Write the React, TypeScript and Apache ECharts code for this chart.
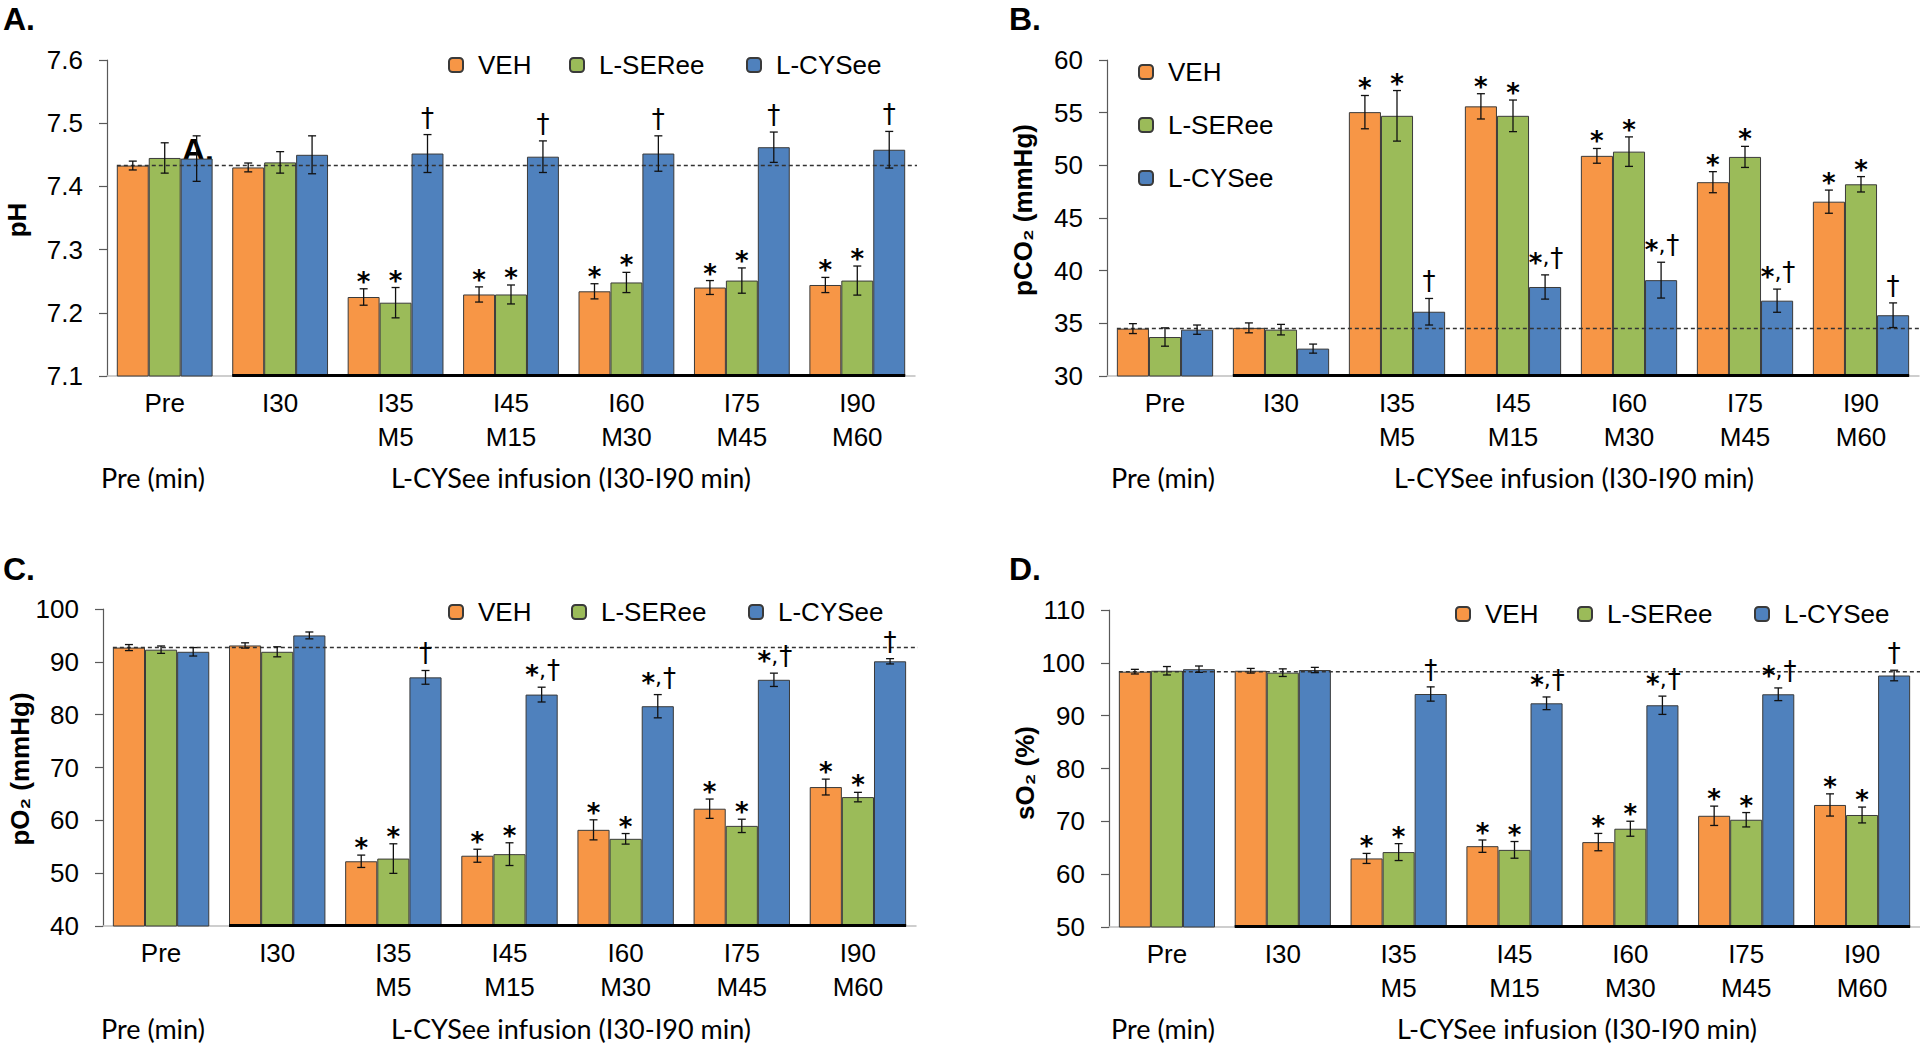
import React, { useEffect, useRef } from "react";
import * as echarts from "echarts";

// ---------- data ----------
const categories = ["Pre", "I30", "I35\nM5", "I45\nM15", "I60\nM30", "I75\nM45", "I90\nM60"];
const seriesNames = ["VEH", "L-SERee", "L-CYSee"];
const colors = ["#F79646", "#9BBB59", "#4F81BD"];

// A. pH
const phVeh = [7.433, 7.430, 7.225, 7.229, 7.234, 7.240, 7.244];
const phVehErr = [0.007, 0.007, 0.013, 0.012, 0.012, 0.011, 0.012];
const phSer = [7.445, 7.438, 7.216, 7.229, 7.248, 7.251, 7.251];
const phSerErr = [0.024, 0.017, 0.024, 0.015, 0.016, 0.020, 0.023];
const phCys = [7.444, 7.450, 7.452, 7.447, 7.452, 7.462, 7.458];
const phCysErr = [0.036, 0.030, 0.030, 0.025, 0.028, 0.024, 0.029];
const phVehMark = ["", "", "*", "*", "*", "*", "*"];
const phSerMark = ["", "", "*", "*", "*", "*", "*"];
const phCysMark = ["", "", "†", "†", "†", "†", "†"];
const phRef = 7.433;

// B. pCO2
const co2Veh = [34.5, 34.57, 55.05, 55.6, 50.9, 48.4, 46.55];
const co2VehErr = [0.47, 0.47, 1.58, 1.2, 0.7, 1.0, 1.1];
const co2Ser = [33.7, 34.4, 54.7, 54.7, 51.3, 50.8, 48.2];
const co2SerErr = [0.87, 0.5, 2.4, 1.5, 1.4, 1.0, 0.73];
const co2Cys = [34.4, 32.6, 36.1, 38.45, 39.1, 37.15, 35.77];
const co2CysErr = [0.44, 0.43, 1.26, 1.15, 1.7, 1.1, 1.17];
const co2VehMark = ["", "", "*", "*", "*", "*", "*"];
const co2SerMark = ["", "", "*", "*", "*", "*", "*"];
const co2CysMark = ["", "", "†", "*,†", "*,†", "*,†", "†"];
const co2Ref = 34.5;

// C. pO2
const o2Veh = [92.7, 93.1, 52.25, 53.3, 58.2, 62.2, 66.3];
const o2VehErr = [0.57, 0.5, 1.17, 1.23, 1.9, 1.83, 1.5];
const o2Ser = [92.3, 91.9, 52.76, 53.6, 56.5, 58.95, 64.4];
const o2SerErr = [0.7, 0.95, 2.8, 2.15, 1.0, 1.26, 0.9];
const o2Cys = [91.9, 95.0, 87.06, 83.8, 81.6, 86.6, 90.1];
const o2CysErr = [0.8, 0.65, 1.3, 1.4, 2.2, 1.26, 0.5];
const o2VehMark = ["", "", "*", "*", "*", "*", "*"];
const o2SerMark = ["", "", "*", "*", "*", "*", "*"];
const o2CysMark = ["", "", "†", "*,†", "*,†", "*,†", "†"];
const o2Ref = 92.7;

// D. sO2
const sVeh = [98.33, 98.5, 62.98, 65.3, 66.07, 71.05, 73.1];
const sVehErr = [0.44, 0.44, 0.95, 1.17, 1.64, 1.83, 2.1];
const sSer = [98.5, 98.14, 64.18, 64.6, 68.6, 70.3, 71.2];
const sSerErr = [0.8, 0.72, 1.6, 1.58, 1.42, 1.36, 1.5];
const sCys = [98.8, 98.64, 94.1, 92.34, 91.97, 94.05, 97.6];
const sCysErr = [0.6, 0.5, 1.35, 1.2, 1.73, 1.2, 1.0];
const sVehMark = ["", "", "*", "*", "*", "*", "*"];
const sSerMark = ["", "", "*", "*", "*", "*", "*"];
const sCysMark = ["", "", "†", "*,†", "*,†", "*,†", "†"];
const sRef = 98.33;

const yTicksA = { min: 7.1, max: 7.6, interval: 0.1, decimals: 1 };
const yTicksB = { min: 30, max: 60, interval: 5, decimals: 0 };
const yTicksC = { min: 40, max: 100, interval: 10, decimals: 0 };
const yTicksD = { min: 50, max: 110, interval: 10, decimals: 0 };

// ---------- layout ----------
const GAP = 0.17;
const ARIAL = '"Liberation Sans", Arial, sans-serif';
const MARKFONT = '"DejaVu Sans", sans-serif';

const panels = [
  {
    grid: { left: 107, top: 60, width: 808, height: 316 },
    ticks: yTicksA,
    values: [phVeh, phSer, phCys],
    errs: [phVehErr, phSerErr, phCysErr],
    marks: [phVehMark, phSerMark, phCysMark],
    ref: phRef,
    legend: { lefts: [448, 569, 746], cys: [65, 65, 65] },
  },
  {
    grid: { left: 1107, top: 60, width: 812, height: 316 },
    ticks: yTicksB,
    values: [co2Veh, co2Ser, co2Cys],
    errs: [co2VehErr, co2SerErr, co2CysErr],
    marks: [co2VehMark, co2SerMark, co2CysMark],
    ref: co2Ref,
    legend: { lefts: [1138, 1138, 1138], cys: [72, 125, 178] },
  },
  {
    grid: { left: 103, top: 609, width: 813, height: 317 },
    ticks: yTicksC,
    values: [o2Veh, o2Ser, o2Cys],
    errs: [o2VehErr, o2SerErr, o2CysErr],
    marks: [o2VehMark, o2SerMark, o2CysMark],
    ref: o2Ref,
    legend: { lefts: [448, 571, 748], cys: [612, 612, 612] },
  },
  {
    grid: { left: 1109, top: 610, width: 811, height: 317 },
    ticks: yTicksD,
    values: [sVeh, sSer, sCys],
    errs: [sVehErr, sSerErr, sCysErr],
    marks: [sVehMark, sSerMark, sCysMark],
    ref: sRef,
    legend: { lefts: [1455, 1577, 1754], cys: [614, 614, 614] },
  },
];

function markElement(m: string, cx: number, yTop: number) {
  if (m === "*") {
    return {
      type: "text",
      x: cx,
      y: yTop - 7,
      style: {
        text: "*",
        fill: "#000",
        fontSize: 26,
        fontWeight: "bold",
        fontFamily: MARKFONT,
        align: "center",
        verticalAlign: "middle",
        textAlign: "center",
        textVerticalAlign: "middle",
      },
    };
  }
  const rich = m
    .split("")
    .map((ch) => (ch === "*" ? "{a|*}" : ch === "," ? "{c|,}" : "{d|†}"))
    .join("");
  return {
    type: "text",
    x: cx + (m.length > 1 ? 1 : 0),
    y: yTop - 17,
    style: {
      text: rich,
      fill: "#000",
      align: "center",
      verticalAlign: "middle",
      textAlign: "center",
      textVerticalAlign: "middle",
      rich: {
        a: { fontSize: 26, fontWeight: "bold", fontFamily: MARKFONT, fill: "#000", padding: [10, 0, 0, 0] },
        c: { fontSize: 22, fontFamily: MARKFONT, fill: "#000", padding: [0, 1, 0, 0] },
        d: { fontSize: 26, fontFamily: MARKFONT, fill: "#000" },
      },
    },
  };
}

function buildOption() {
  const grid = panels.map((p) => ({ ...p.grid }));
  const xAxis = panels.map((p, k) => ({
    type: "category",
    gridIndex: k,
    data: categories,
    axisLine: { show: true, lineStyle: { color: "#bfbfbf", width: 1.5 } },
    axisTick: { show: false },
    axisLabel: {
      interval: 0,
      fontSize: 26,
      fontFamily: ARIAL,
      color: "#000",
      lineHeight: 34,
      margin: 10,
    },
  }));
  const yAxis = panels.map((p, k) => ({
    type: "value",
    gridIndex: k,
    min: p.ticks.min,
    max: p.ticks.max,
    interval: p.ticks.interval,
    splitLine: { show: false },
    axisLine: { show: true, lineStyle: { color: "#595959", width: 1.2 } },
    axisTick: { show: true, length: 8, lineStyle: { color: "#595959", width: 1.2 } },
    axisLabel: {
      fontSize: 26,
      fontFamily: ARIAL,
      color: "#000",
      margin: 24,
      formatter: (v: number) => v.toFixed(p.ticks.decimals),
    },
  }));

  const series: any[] = [];
  panels.forEach((p, k) => {
    p.values.forEach((vals, s) => {
      series.push({
        type: "bar",
        name: seriesNames[s],
        xAxisIndex: k,
        yAxisIndex: k,
        data: vals,
        barGap: "0%",
        barCategoryGap: GAP * 100 + "%",
        itemStyle: { color: colors[s], borderColor: "#3a3a3a", borderWidth: 1 },
        z: 2,
      });
    });

    // reference dashed line + black baseline segment
    series.push({
      type: "custom",
      xAxisIndex: k,
      yAxisIndex: k,
      data: [[0, p.ref]],
      z: 5,
      silent: true,
      renderItem: (params: any, api: any) => {
        const band = api.size([1, 0])[0];
        const groupW = band * (1 - GAP);
        const refPt = api.coord([0, api.value(1)]);
        const endPt = api.coord([6, api.value(1)]);
        const base1 = api.coord([1, p.ticks.min]);
        const base6 = api.coord([6, p.ticks.min]);
        return {
          type: "group",
          children: [
            {
              type: "line",
              shape: { x1: refPt[0] - groupW / 2, y1: refPt[1], x2: endPt[0] + band / 2 + 2, y2: refPt[1] },
              style: { stroke: "#333", lineWidth: 1.5, lineDash: [4, 3] },
            },
            {
              type: "line",
              shape: { x1: base1[0] - groupW / 2, y1: base1[1] - 0.5, x2: base6[0] + groupW / 2, y2: base6[1] - 0.5 },
              style: { stroke: "#000", lineWidth: 3 },
            },
          ],
        };
      },
    });

    // error bars + significance marks
    const errData: number[][] = [];
    const markList: string[] = [];
    p.values.forEach((vals, s) => {
      vals.forEach((v, i) => {
        errData.push([i, v, p.errs[s][i], s]);
        markList.push(p.marks[s][i]);
      });
    });
    series.push({
      type: "custom",
      xAxisIndex: k,
      yAxisIndex: k,
      data: errData,
      encode: { x: 0, y: 1 },
      z: 6,
      silent: true,
      renderItem: (params: any, api: any) => {
        const i = api.value(0);
        const v = api.value(1);
        const e = api.value(2);
        const s = api.value(3);
        const band = api.size([1, 0])[0];
        const bw = (band * (1 - GAP)) / 3;
        const c = api.coord([i, v]);
        const cx = c[0] + (s - 1) * bw;
        const yTop = api.coord([i, v + e])[1];
        const yBot = api.coord([i, v - e])[1];
        const cap = 4;
        const st = { stroke: "#111", lineWidth: 1.3 };
        const children: any[] = [
          { type: "line", shape: { x1: cx, y1: yTop, x2: cx, y2: yBot }, style: st },
          { type: "line", shape: { x1: cx - cap, y1: yTop, x2: cx + cap, y2: yTop }, style: st },
          { type: "line", shape: { x1: cx - cap, y1: yBot, x2: cx + cap, y2: yBot }, style: st },
        ];
        const m = markList[params.dataIndex];
        if (m) children.push(markElement(m, cx, yTop));
        return { type: "group", children };
      },
    });
  });

  const legend: any[] = [];
  panels.forEach((p) => {
    seriesNames.forEach((n, s) => {
      legend.push({
        data: [n],
        left: p.legend.lefts[s],
        top: p.legend.cys[s] - 13,
        padding: 0,
        itemWidth: 14,
        itemHeight: 14,
        selectedMode: false,
        textStyle: {
          fontSize: 26,
          fontFamily: ARIAL,
          color: "#000",
          lineHeight: 26,
          padding: [0, 0, 0, 10],
        },
      });
    });
  });

  const txt = (text: string, x: number, y: number, font: string, extra: any = {}) => ({
    type: "text",
    x,
    y,
    ...extra,
    style: {
      text,
      font,
      fill: "#000",
      textAlign: extra.align || "left",
      align: extra.align || "left",
      textVerticalAlign: "middle",
      verticalAlign: "middle",
    },
  });
  const letterFont = 'bold 32px "Liberation Sans", Arial, sans-serif';
  const nameFont = 'bold 26px "Liberation Sans", Arial, sans-serif';
  const capFont = '27px Lato, "Open Sans", sans-serif';
  const rot = { rotation: Math.PI / 2, align: "center" };

  const graphic = [
    txt("A.", 3, 19, letterFont),
    txt("B.", 1009, 19, letterFont),
    txt("C.", 3, 569, letterFont),
    txt("D.", 1009, 569, letterFont),
    txt("A.", 182, 150, letterFont),
    txt("pH", 17, 220, nameFont, rot),
    txt("pCO₂ (mmHg)", 1023, 210, nameFont, rot),
    txt("pO₂ (mmHg)", 20, 769, nameFont, rot),
    txt("sO₂ (%)", 1025, 773, nameFont, rot),
    txt("Pre (min)", 101, 477, capFont),
    txt("L-CYSee infusion (I30-I90 min)", 391, 477, capFont),
    txt("Pre (min)", 1111, 477, capFont),
    txt("L-CYSee infusion (I30-I90 min)", 1394, 477, capFont),
    txt("Pre (min)", 101, 1028, capFont),
    txt("L-CYSee infusion (I30-I90 min)", 391, 1028, capFont),
    txt("Pre (min)", 1111, 1028, capFont),
    txt("L-CYSee infusion (I30-I90 min)", 1397, 1028, capFont),
  ];

  return {
    animation: false,
    backgroundColor: "#ffffff",
    grid,
    xAxis,
    yAxis,
    legend,
    series,
    graphic,
  };
}

export default function App() {
  const ref = useRef<HTMLDivElement>(null);
  useEffect(() => {
    if (!ref.current) return;
    const chart = echarts.init(ref.current, undefined, { renderer: "svg" });
    chart.setOption(buildOption() as any);
    return () => chart.dispose();
  }, []);
  return (
    <div
      ref={ref}
      style={{ position: "absolute", left: 0, top: 0, width: 1920, height: 1045, background: "#fff" }}
    />
  );
}
